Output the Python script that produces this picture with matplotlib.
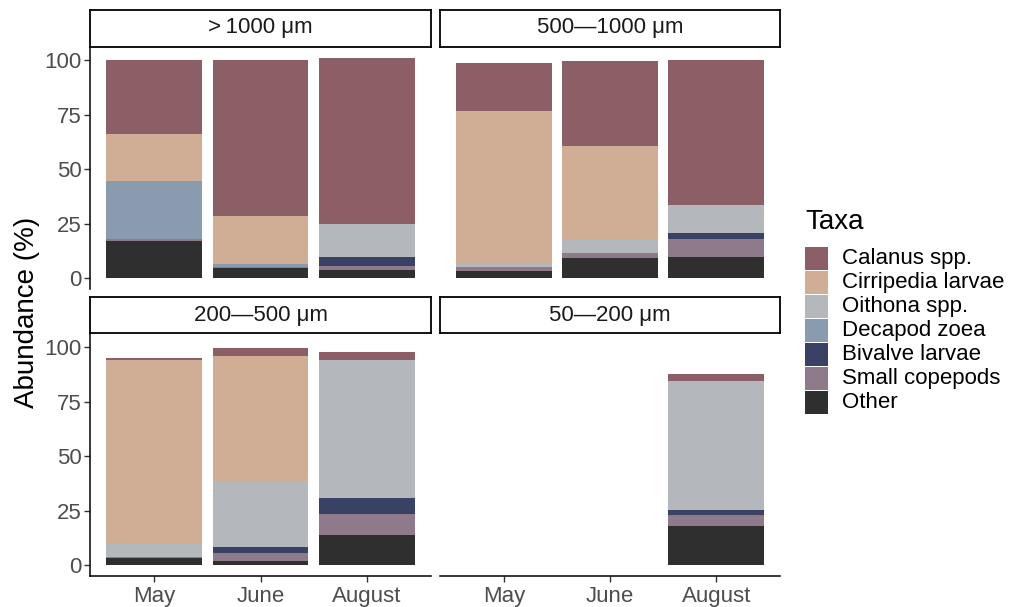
import numpy as np
import matplotlib
matplotlib.use("Agg")
import matplotlib.pyplot as plt
from matplotlib.patches import Rectangle

plt.rcParams['font.family'] = ['Liberation Sans', 'DejaVu Sans']

months = ["May", "June", "August"]
size_classes = [">\u20091000 \u03bcm", "500\u20141000 \u03bcm", "200\u2014500 \u03bcm", "50\u2014200 \u03bcm"]
taxa = ["Calanus spp.", "Cirripedia larvae", "Oithona spp.", "Decapod zoea",
        "Bivalve larvae", "Small copepods", "Other"]
colors = ["#8c5e66", "#cfae95", "#b4b7bb", "#8a9bb0", "#394265", "#8e7a8a", "#2f2f2f"]

# Relative abundance (%) per taxon: rows = size class, columns = month
calanus = [[33.9, 71.7, 76.2], [22.3, 38.7, 66.6], [0.9, 4.0, 3.7], [0.0, 0.0, 3.4]]
cirripedia = [[21.5, 22.4, 0.0], [70.3, 43.0, 0.0], [84.6, 57.9, 0.0], [0.0, 0.0, 0.0]]
oithona = [[0.0, 0.0, 15.2], [1.1, 6.2, 12.9], [5.9, 29.8, 63.5], [0.0, 0.0, 59.2]]
decapod = [[26.6, 1.2, 0.0], [0.0, 0.0, 0.0], [0.0, 0.0, 0.0], [0.0, 0.0, 0.0]]
bivalve = [[0.0, 0.0, 4.0], [0.0, 0.0, 2.8], [0.0, 2.8, 7.2], [0.0, 0.0, 2.3]]
small_copepods = [[1.0, 0.4, 2.2], [1.9, 2.3, 8.0], [0.3, 3.3, 9.5], [0.0, 0.0, 5.0]]
other = [[17.0, 4.6, 3.5], [3.2, 9.2, 9.7], [3.4, 2.0, 14.0], [0.0, 0.0, 17.9]]

series = [calanus, cirripedia, oithona, decapod, bivalve, small_copepods, other]

W, H = 1013, 607
fig = plt.figure(figsize=(W / 100, H / 100), dpi=100)


def rect(x0, y0, x1, y1):
    return [x0 / W, 1 - y1 / H, (x1 - x0) / W, (y1 - y0) / H]


panels = [(90, 47, 431, 289), (440, 47, 780, 289), (90, 334, 431, 576), (440, 334, 780, 576)]
strips = [(90, 9.5, 431, 46.5), (440, 9.5, 780, 46.5), (90, 297, 431, 333), (440, 297, 780, 333)]

tick_col = "#4d4d4d"
x = np.arange(1, len(months) + 1)

for i, (pb, sb) in enumerate(zip(panels, strips)):
    ax = fig.add_axes(rect(*pb))
    bottom = np.zeros(len(months))
    # stack from the bottom: Other first, Calanus on top
    for name, col, vals in reversed(list(zip(taxa, colors, series))):
        v = np.array(vals[i], dtype=float)
        m = v > 0
        if m.any():
            ax.bar(x[m], v[m], width=0.9, bottom=bottom[m], color=col,
                   linewidth=0)
        bottom += v
    ax.set_xlim(0.4, 3.6)
    ax.set_ylim(-5.05, 106.05)
    for s in ax.spines.values():
        s.set_visible(False)
    left = i in (0, 2)
    lower = i in (2, 3)
    ax.set_yticks([0, 25, 50, 75, 100])
    ax.set_xticks(x)
    ax.set_xticklabels(months)
    ax.tick_params(axis="both", colors="#333333", labelcolor=tick_col, labelsize=16,
                   length=4, width=1)
    ax.tick_params(axis="y", pad=2)
    ax.tick_params(axis="x", pad=3)
    if left:
        ax.spines["left"].set_visible(True)
        ax.spines["left"].set_linewidth(1.1)
        ax.spines["left"].set_color("black")
    else:
        ax.tick_params(axis="y", left=False, labelleft=False)
    if lower:
        ax.spines["bottom"].set_visible(True)
        ax.spines["bottom"].set_linewidth(1.1)
        ax.spines["bottom"].set_color("black")
    else:
        ax.tick_params(axis="x", bottom=False, labelbottom=False)

    st = fig.add_axes(rect(*sb))
    st.set_xticks([])
    st.set_yticks([])
    for s in st.spines.values():
        s.set_linewidth(1.3)
        s.set_color("black")
    st.text(0.5, 0.5, size_classes[i], ha="center", va="center", fontsize=16,
            color="#1a1a1a", transform=st.transAxes)

fig.text(27 / W, 1 - 312 / H, "Abundance (%)", rotation=90, ha="center", va="center",
         fontsize=20)

# legend
lg = fig.add_axes([0, 0, 1, 1])
lg.set_xlim(0, W)
lg.set_ylim(H, 0)
lg.axis("off")
lg.text(805, 222, "Taxa", fontsize=20, ha="left", va="center")
for k, (name, col) in enumerate(zip(taxa, colors)):
    y0 = 247 + k * 24
    lg.add_patch(Rectangle((805, y0), 23, 23, facecolor=col, edgecolor="none"))
    lg.text(842, y0 + 11.5, name, fontsize=16, ha="left", va="center")

fig.savefig("out.png", dpi=100, facecolor="white")
